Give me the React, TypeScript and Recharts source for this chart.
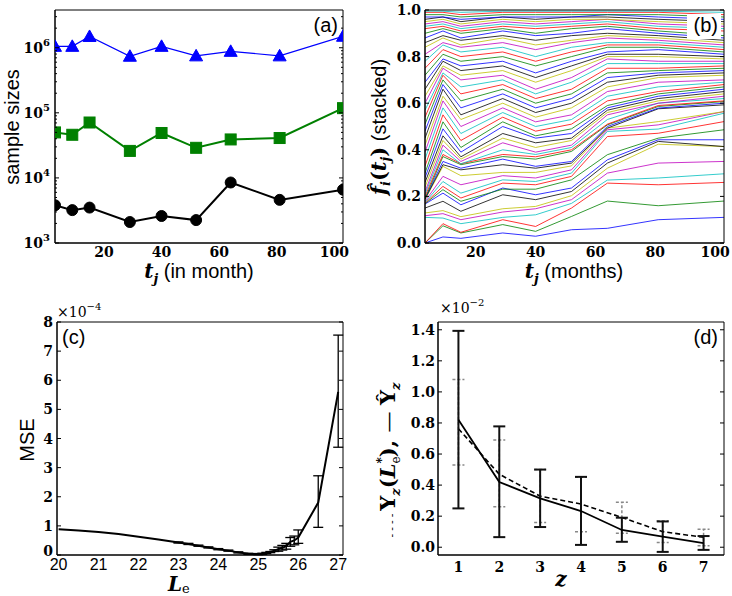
import { LineChart, Line, XAxis, YAxis, ErrorBar } from 'recharts';

// ---- panel (a): sample sizes per month ----
const tMonths = [3, 9, 15, 29, 40, 52, 64, 81, 103];
const sizeLarge = [1.05e6, 1.05e6, 1.49e6, 7.4e5, 1.05e6, 7.5e5, 8.8e5, 7.5e5, 1.5e6];
const sizeMedium = [5.0e4, 4.6e4, 7.1e4, 2.6e4, 4.9e4, 2.9e4, 3.9e4, 4.1e4, 1.18e5];
const sizeSmall = [3800, 3200, 3500, 2100, 2600, 2250, 8500, 4600, 6600];
const monthTicks = [20, 40, 60, 80, 100];
const logMajorTicks = [1e3, 1e4, 1e5, 1e6];
const logMinorTicks = [
  2e3, 3e3, 4e3, 5e3, 6e3, 7e3, 8e3, 9e3,
  2e4, 3e4, 4e4, 5e4, 6e4, 7e4, 8e4, 9e4,
  2e5, 3e5, 4e5, 5e5, 6e5, 7e5, 8e5, 9e5,
  2e6, 3e6,
];

// ---- panel (b): stacked frequencies, one row per line, one value per month ----
const stackLines: number[][] = [
  [0.0, 0.026, 0.02, 0.043, 0.029, 0.057, 0.063, 0.1, 0.11],
  [0.0, 0.074, 0.043, 0.079, 0.05, 0.114, 0.18, 0.16, 0.18],
  [0.0, 0.083, 0.046, 0.1, 0.071, 0.15, 0.257, 0.25, 0.26],
  [0.11, 0.107, 0.083, 0.11, 0.121, 0.17, 0.27, 0.279, 0.297],
  [0.117, 0.126, 0.1, 0.133, 0.147, 0.186, 0.3, 0.343, 0.35],
  [0.129, 0.139, 0.113, 0.147, 0.157, 0.203, 0.321, 0.424, 0.414],
  [0.15, 0.179, 0.136, 0.207, 0.186, 0.221, 0.343, 0.436, 0.414],
  [0.167, 0.214, 0.164, 0.236, 0.207, 0.236, 0.357, 0.443, 0.443],
  [0.169, 0.229, 0.179, 0.231, 0.231, 0.271, 0.379, 0.45, 0.486],
  [0.171, 0.243, 0.193, 0.257, 0.25, 0.286, 0.457, 0.471, 0.521],
  [0.174, 0.264, 0.214, 0.271, 0.264, 0.3, 0.479, 0.489, 0.557],
  [0.179, 0.286, 0.25, 0.289, 0.279, 0.314, 0.486, 0.507, 0.564],
  [0.186, 0.329, 0.289, 0.303, 0.303, 0.331, 0.493, 0.521, 0.564],
  [0.189, 0.336, 0.314, 0.336, 0.321, 0.343, 0.493, 0.576, 0.593],
  [0.19, 0.35, 0.321, 0.36, 0.329, 0.35, 0.5, 0.579, 0.6],
  [0.19, 0.371, 0.336, 0.371, 0.36, 0.393, 0.507, 0.586, 0.607],
  [0.2, 0.38, 0.34, 0.38, 0.37, 0.4, 0.51, 0.59, 0.61],
  [0.21, 0.4, 0.34, 0.4, 0.38, 0.41, 0.53, 0.6, 0.62],
  [0.22, 0.42, 0.35, 0.43, 0.39, 0.42, 0.55, 0.6, 0.63],
  [0.24, 0.44, 0.36, 0.45, 0.41, 0.44, 0.56, 0.61, 0.64],
  [0.26, 0.46, 0.37, 0.47, 0.43, 0.45, 0.57, 0.62, 0.65],
  [0.28, 0.49, 0.39, 0.5, 0.45, 0.47, 0.58, 0.63, 0.66],
  [0.3, 0.52, 0.41, 0.52, 0.46, 0.49, 0.59, 0.64, 0.67],
  [0.33, 0.55, 0.44, 0.54, 0.48, 0.51, 0.61, 0.65, 0.68],
  [0.36, 0.58, 0.47, 0.56, 0.5, 0.53, 0.63, 0.67, 0.69],
  [0.39, 0.61, 0.5, 0.58, 0.52, 0.55, 0.65, 0.69, 0.7],
  [0.42, 0.63, 0.53, 0.6, 0.54, 0.58, 0.67, 0.71, 0.72],
  [0.45, 0.66, 0.55, 0.62, 0.56, 0.6, 0.69, 0.72, 0.73],
  [0.48, 0.68, 0.58, 0.64, 0.58, 0.62, 0.71, 0.73, 0.74],
  [0.51, 0.7, 0.61, 0.66, 0.6, 0.64, 0.73, 0.74, 0.75],
  [0.54, 0.72, 0.64, 0.68, 0.62, 0.66, 0.75, 0.75, 0.76],
  [0.57, 0.73, 0.67, 0.7, 0.64, 0.69, 0.77, 0.77, 0.77],
  [0.6, 0.75, 0.7, 0.72, 0.66, 0.71, 0.79, 0.78, 0.78],
  [0.63, 0.76, 0.72, 0.74, 0.69, 0.74, 0.8, 0.8, 0.79],
  [0.66, 0.78, 0.74, 0.76, 0.71, 0.76, 0.81, 0.81, 0.8],
  [0.69, 0.79, 0.76, 0.78, 0.73, 0.78, 0.82, 0.83, 0.81],
  [0.72, 0.81, 0.78, 0.8, 0.76, 0.8, 0.84, 0.84, 0.82],
  [0.75, 0.83, 0.8, 0.82, 0.78, 0.82, 0.85, 0.85, 0.83],
  [0.78, 0.85, 0.82, 0.84, 0.8, 0.84, 0.86, 0.86, 0.84],
  [0.81, 0.86, 0.84, 0.86, 0.83, 0.86, 0.88, 0.87, 0.85],
  [0.84, 0.88, 0.85, 0.88, 0.85, 0.87, 0.89, 0.88, 0.86],
  [0.86, 0.89, 0.87, 0.89, 0.87, 0.89, 0.9, 0.89, 0.87],
  [0.88, 0.91, 0.88, 0.91, 0.89, 0.9, 0.92, 0.9, 0.88],
  [0.9, 0.92, 0.9, 0.92, 0.9, 0.92, 0.93, 0.91, 0.89],
  [0.92, 0.93, 0.91, 0.93, 0.92, 0.93, 0.94, 0.92, 0.91],
  [0.93, 0.94, 0.92, 0.94, 0.93, 0.94, 0.95, 0.93, 0.92],
  [0.94, 0.95, 0.93, 0.95, 0.94, 0.95, 0.96, 0.94, 0.93],
  [0.95, 0.96, 0.94, 0.96, 0.95, 0.96, 0.96, 0.95, 0.94],
  [0.96, 0.97, 0.95, 0.97, 0.96, 0.97, 0.97, 0.96, 0.95],
  [0.97, 0.97, 0.96, 0.97, 0.97, 0.97, 0.98, 0.97, 0.96],
  [0.98, 0.98, 0.97, 0.98, 0.98, 0.98, 0.98, 0.98, 0.97],
  [0.99, 0.99, 0.98, 0.99, 0.99, 0.99, 0.99, 0.99, 0.98],
  [0.995, 0.995, 0.99, 0.995, 0.995, 0.995, 0.995, 0.995, 0.99],
];
const fracTicks = [0, 0.2, 0.4, 0.6, 0.8, 1.0];

// ---- panel (c): MSE (x1e-4) vs L_e ----
const leValues = [20, 20.5, 21, 21.5, 22, 22.5, 23, 23.25, 23.5, 23.75, 24, 24.25, 24.5, 24.75, 25, 25.1, 25.2, 25.3, 25.4, 25.5, 25.6, 25.7, 25.8, 25.9, 26, 26.5, 27];
const mseValues = [0.88, 0.84, 0.79, 0.72, 0.63, 0.53, 0.43, 0.38, 0.32, 0.26, 0.2, 0.15, 0.09, 0.04, 0.03, 0.04, 0.07, 0.1, 0.15, 0.2, 0.25, 0.3, 0.45, 0.5, 0.6, 1.8, 5.6];
const mseLow = [null, null, null, null, null, null, 0.41, 0.36, 0.3, 0.24, 0.18, 0.13, 0.07, 0.02, 0.01, 0.02, 0.05, 0.08, 0.12, 0.13, 0.17, 0.2, 0.3, 0.35, 0.4, 0.95, 3.7];
const mseHigh = [null, null, null, null, null, null, 0.45, 0.4, 0.34, 0.28, 0.22, 0.17, 0.11, 0.06, 0.05, 0.06, 0.09, 0.12, 0.18, 0.27, 0.33, 0.4, 0.6, 0.65, 0.86, 2.72, 7.55];
const leTicks = [20, 21, 22, 23, 24, 25, 26, 27];
const mseTicks = [0, 1, 2, 3, 4, 5, 6, 7, 8];

// ---- panel (d): Y_z (x1e-2) vs z ----
const zValues = [1, 2, 3, 4, 5, 6, 7];
const yHat = [0.82, 0.42, 0.314, 0.233, 0.111, 0.068, 0.026];
const yHatLow = [0.25, 0.065, 0.13, 0.015, 0.035, -0.03, -0.017];
const yHatHigh = [1.393, 0.778, 0.5, 0.453, 0.19, 0.166, 0.072];
const yModel = [0.763, 0.47, 0.329, 0.278, 0.192, 0.1, 0.064];
const yModelLow = [0.53, 0.26, 0.16, 0.1, 0.09, 0.03, 0.01];
const yModelHigh = [1.08, 0.69, 0.5, 0.45, 0.29, 0.17, 0.115];
const yzTicks = [0, 0.2, 0.4, 0.6, 0.8, 1.0, 1.2, 1.4];

const SERIF = '"DejaVu Serif", serif';
const SANS = '"Liberation Sans", Arial, sans-serif';
const CYCLE = ['#0000ff', '#008000', '#ff0000', '#00bfbf', '#bf00bf', '#bfbf00', '#000000'];

const sizeData = tMonths.map((t, i) => ({ t, large: sizeLarge[i], medium: sizeMedium[i], small: sizeSmall[i] }));
const stackData = tMonths.map((t, j) => {
  const row: Record<string, number> = { t };
  stackLines.forEach((line, i) => {
    row['s' + i] = line[j];
  });
  return row;
});
const mseData = leValues.map((le, i) => ({
  le,
  mse: mseValues[i],
  err: mseLow[i] == null ? null : [mseValues[i] - (mseLow[i] as number), (mseHigh[i] as number) - mseValues[i]],
}));
const yzData = zValues.map((z, i) => ({
  z,
  hat: yHat[i],
  hatErr: [yHat[i] - yHatLow[i], yHatHigh[i] - yHat[i]],
  model: yModel[i],
  modelErr: [yModel[i] - yModelLow[i], yModelHigh[i] - yModel[i]],
}));

// y tick drawn as a short inward line; minor ticks are shorter
const inwardY = (side: 'left' | 'right', major: number[]) => (p: any) => {
  const len = major.includes(p.payload.value) ? 4 : 2;
  return <line x1={p.x} y1={p.y} x2={side === 'left' ? p.x + len : p.x - len} y2={p.y} stroke="#000" strokeWidth={1} />;
};

// inward tick marks on all four sides (matplotlib classic box)
function frame(prefix: string, xDomain: number[], xTicks: number[], yDomain: number[], yTicks: number[], yMinor: number[] = [], yScale: any = 'linear') {
  const c = { tickSize: 4, mirror: true, allowDataOverflow: true, interval: 0 as const, axisLine: { stroke: '#000' }, tickLine: { stroke: '#000' } };
  const yc = { mirror: true, allowDataOverflow: true, interval: 0 as const, axisLine: { stroke: '#000' }, tickLine: false, tickSize: 0, tickMargin: 0 };
  const yAll = [...yTicks, ...yMinor];
  return [
    <XAxis key={prefix + 'xb'} xAxisId={prefix + 'xb'} orientation="bottom" type="number" domain={xDomain} ticks={xTicks} tick={false} {...c} />,
    <XAxis key={prefix + 'xt'} xAxisId={prefix + 'xt'} orientation="top" type="number" domain={xDomain} ticks={xTicks} tick={false} {...c} />,
    <YAxis key={prefix + 'yl'} yAxisId={prefix + 'yl'} orientation="left" type="number" scale={yScale} domain={yDomain} ticks={yAll} tick={inwardY('left', yTicks)} {...yc} />,
    <YAxis key={prefix + 'yr'} yAxisId={prefix + 'yr'} orientation="right" type="number" scale={yScale} domain={yDomain} ticks={yAll} tick={inwardY('right', yTicks)} {...yc} />,
  ];
}

const bottomSerif = (p: any) => (
  <text x={p.x} y={p.y} dy="0.71em" textAnchor="middle" fontFamily={SERIF} fontWeight={700} fontSize={14} fill="#000">
    {p.payload.value}
  </text>
);
const bottomSans = (p: any) => (
  <text x={p.x} y={p.y} dy="0.71em" textAnchor="middle" fontFamily={SANS} fontSize={16} fill="#000">
    {p.payload.value}
  </text>
);
const leftFixed = (p: any) => (
  <text x={p.x} y={p.y} dy="0.36em" textAnchor="end" fontFamily={SERIF} fontWeight={700} fontSize={14} fill="#000">
    {Number(p.payload.value).toFixed(1)}
  </text>
);
const leftInt = (p: any) => (
  <text x={p.x} y={p.y} dy={p.payload.value === 0 ? '0.1em' : '0.36em'} textAnchor="end" fontFamily={SERIF} fontWeight={700} fontSize={14} fill="#000">
    {p.payload.value}
  </text>
);
const leftPow = (p: any) => (
  <text x={p.x} y={p.y} dy={5} textAnchor="end" fontFamily={SERIF} fontWeight={700} fontSize={14} fill="#000">
    10<tspan dy={-7} fontSize={10}>{Math.round(Math.log10(p.payload.value))}</tspan>
  </text>
);

const triangle = (p: any) =>
  p.cx == null ? <g key={p.index} /> : (
    <polygon key={p.index} points={`${p.cx},${p.cy - 6.5} ${p.cx - 6.5},${p.cy + 5} ${p.cx + 6.5},${p.cy + 5}`} fill="#0000ff" stroke="#0000ff" />
  );
const square = (p: any) =>
  p.cx == null ? <g key={p.index} /> : (
    <rect key={p.index} x={p.cx - 5.5} y={p.cy - 5.5} width={11} height={11} fill="#008000" stroke="#008000" />
  );
const circle = (p: any) =>
  p.cx == null ? <g key={p.index} /> : <circle key={p.index} cx={p.cx} cy={p.cy} r={5.5} fill="#000" stroke="#000" />;

const chartBox = (left: number, top: number) => ({ position: 'absolute' as const, left, top });

export default function App() {
  const monthDomain = [3, 103];
  const logDomain = [1e3, 3.8e6];
  return (
    <div style={{ position: 'absolute', left: 0, top: 0, width: 732, height: 596, background: '#fff', overflow: 'hidden' }}>
      {/* (a) */}
      <div style={chartBox(0, 0)}>
        <LineChart width={366} height={298} data={sizeData} margin={{ top: 10, right: 23, left: 0, bottom: 25 }}>
          <XAxis dataKey="t" type="number" domain={monthDomain} ticks={monthTicks} allowDataOverflow interval={0} height={30}
            tickLine={false} tickSize={0} tickMargin={4} axisLine={{ stroke: '#000' }} tick={bottomSerif} />
          <YAxis type="number" scale="log" domain={logDomain} ticks={logMajorTicks} allowDataOverflow interval={0} width={55}
            tickLine={false} tickSize={0} tickMargin={5} axisLine={{ stroke: '#000' }} tick={leftPow} />
          {frame('a', monthDomain, monthTicks, logDomain, logMajorTicks, logMinorTicks, 'log')}
          <Line dataKey="large" stroke="#0000ff" strokeWidth={1.2} dot={triangle} isAnimationActive={false} />
          <Line dataKey="medium" stroke="#008000" strokeWidth={2} dot={square} isAnimationActive={false} />
          <Line dataKey="small" stroke="#000" strokeWidth={2} dot={circle} isAnimationActive={false} />
        </LineChart>
      </div>

      {/* (b) */}
      <div style={chartBox(366, 0)}>
        <LineChart width={366} height={298} data={stackData} margin={{ top: 10, right: 8, left: 0, bottom: 25 }}>
          <XAxis dataKey="t" type="number" domain={monthDomain} ticks={monthTicks} allowDataOverflow interval={0} height={30}
            tickLine={false} tickSize={0} tickMargin={4} axisLine={{ stroke: '#000' }} tick={bottomSerif} />
          <YAxis type="number" domain={[0, 1]} ticks={fracTicks} allowDataOverflow interval={0} width={59}
            tickLine={false} tickSize={0} tickMargin={4} axisLine={{ stroke: '#000' }} tick={leftFixed} />
          {stackLines.map((_, i) => (
            <Line key={'s' + i} dataKey={'s' + i} stroke={CYCLE[i % CYCLE.length]} strokeWidth={0.8} dot={false} isAnimationActive={false} />
          ))}
          {frame('b', monthDomain, monthTicks, [0, 1], fracTicks)}
        </LineChart>
      </div>

      {/* (c) */}
      <div style={chartBox(0, 298)}>
        <LineChart width={366} height={298} data={mseData} margin={{ top: 24, right: 23, left: 0, bottom: 16 }}>
          <XAxis dataKey="le" type="number" domain={[19.96, 27.12]} ticks={leTicks} allowDataOverflow interval={0} height={25}
            tickLine={false} tickSize={0} tickMargin={4} axisLine={{ stroke: '#000' }} tick={bottomSans} />
          <YAxis type="number" domain={[0, 8]} ticks={mseTicks} allowDataOverflow interval={0} width={57}
            tickLine={false} tickSize={0} tickMargin={4} axisLine={{ stroke: '#000' }} tick={leftInt} />
          {frame('c', [19.96, 27.12], leTicks, [0, 8], mseTicks)}
          <Line dataKey="mse" stroke="#000" strokeWidth={2} dot={false} isAnimationActive={false}>
            <ErrorBar dataKey="err" direction="y" width={5} stroke="#000" strokeWidth={1.3} isAnimationActive={false} />
          </Line>
        </LineChart>
      </div>

      {/* (d) */}
      <div style={chartBox(366, 298)}>
        <LineChart width={366} height={298} data={yzData} margin={{ top: 24, right: 8, left: 0, bottom: 16 }}>
          <XAxis dataKey="z" type="number" domain={[0.5, 7.5]} ticks={zValues} allowDataOverflow interval={0} height={25}
            tickLine={false} tickSize={0} tickMargin={7} axisLine={{ stroke: '#000' }} tick={bottomSerif} />
          <YAxis type="number" domain={[-0.05, 1.45]} ticks={yzTicks} allowDataOverflow interval={0} width={72}
            tickLine={false} tickSize={0} tickMargin={3} axisLine={{ stroke: '#000' }} tick={leftFixed} />
          {frame('d', [0.5, 7.5], zValues, [-0.05, 1.45], yzTicks)}
          <Line dataKey="model" stroke="#000" strokeWidth={1.6} strokeDasharray="5 3" dot={false} isAnimationActive={false}>
            <ErrorBar dataKey="modelErr" direction="y" width={6} stroke="#888" strokeWidth={1.5} strokeDasharray="3 2" isAnimationActive={false} />
          </Line>
          <Line dataKey="hat" stroke="#000" strokeWidth={1.8} dot={false} isAnimationActive={false}>
            <ErrorBar dataKey="hatErr" direction="y" width={6} stroke="#111" strokeWidth={2} isAnimationActive={false} />
          </Line>
        </LineChart>
      </div>

      {/* titles, panel letters, exponent notes */}
      <svg width={732} height={596} style={{ position: 'absolute', left: 0, top: 0, pointerEvents: 'none' }}>
        <text transform="rotate(-90 19 127)" x={19} y={127} textAnchor="middle" fontFamily={SANS} fontSize={20} fill="#000">sample sizes</text>
        <text x={199} y={278} textAnchor="middle" fill="#000">
          <tspan fontFamily={SERIF} fontWeight={700} fontStyle="italic" fontSize={20}>t</tspan>
          <tspan fontFamily={SERIF} fontWeight={700} fontStyle="italic" fontSize={13} dy={5}>j</tspan>
          <tspan fontFamily={SANS} fontSize={20} dy={-5}> (in month)</tspan>
        </text>
        <text x={338} y={32} textAnchor="end" fontFamily={SANS} fontSize={20} fill="#000">(a)</text>

        <text transform="rotate(-90 386 127)" x={386} y={127} textAnchor="middle" fill="#000">
          <tspan fontFamily={SERIF} fontWeight={700} fontStyle="italic" fontSize={21}>f̂</tspan>
          <tspan fontFamily={SERIF} fontWeight={700} fontStyle="italic" fontSize={13} dy={4}>i</tspan>
          <tspan fontFamily={SERIF} fontWeight={700} fontSize={21} dy={-4}>(</tspan>
          <tspan fontFamily={SERIF} fontWeight={700} fontStyle="italic" fontSize={21}>t</tspan>
          <tspan fontFamily={SERIF} fontWeight={700} fontStyle="italic" fontSize={13} dy={4}>j</tspan>
          <tspan fontFamily={SERIF} fontWeight={700} fontSize={21} dy={-4}>)</tspan>
          <tspan fontFamily={SANS} fontSize={20}> (stacked)</tspan>
        </text>
        <text x={574} y={278} textAnchor="middle" fill="#000">
          <tspan fontFamily={SERIF} fontWeight={700} fontStyle="italic" fontSize={20}>t</tspan>
          <tspan fontFamily={SERIF} fontWeight={700} fontStyle="italic" fontSize={13} dy={5}>j</tspan>
          <tspan fontFamily={SANS} fontSize={20} dy={-5}> (months)</tspan>
        </text>
        <rect x={687} y={14} width={34} height={25} fill="#fff" />
        <text x={718} y={32} textAnchor="end" fontFamily={SANS} fontSize={20} fill="#000">(b)</text>

        <text transform="rotate(-90 34 440)" x={34} y={440} textAnchor="middle" fontFamily={SANS} fontSize={20} fill="#000">MSE</text>
        <text x={57} y={317} fontFamily={SERIF} fontSize={14} fill="#000">
          ×10<tspan dy={-7} fontSize={10}>−4</tspan>
        </text>
        <text x={62} y={344} fontFamily={SANS} fontSize={20} fill="#000">(c)</text>
        <text x={168} y={591} fill="#000">
          <tspan fontFamily={SERIF} fontWeight={700} fontStyle="italic" fontSize={20}>L</tspan>
          <tspan fontFamily={SERIF} fontSize={13} dy={2}>e</tspan>
        </text>

        <text transform="rotate(-90 395 460)" x={395} y={460} textAnchor="middle" fill="#000">
          <tspan fontFamily={SANS} fontSize={11}>- - - - </tspan>
          <tspan fontFamily={SERIF} fontWeight={700} fontSize={21}>Y</tspan>
          <tspan fontFamily={SERIF} fontWeight={700} fontStyle="italic" fontSize={13} dy={5}>z</tspan>
          <tspan fontFamily={SERIF} fontWeight={700} fontSize={21} dy={-5}>(</tspan>
          <tspan fontFamily={SERIF} fontWeight={700} fontStyle="italic" fontSize={21}>L</tspan>
          <tspan fontFamily={SERIF} fontSize={12} dy={5}>e</tspan>
          <tspan fontFamily={SERIF} fontWeight={700} fontSize={12} dx={-7} dy={-14}>*</tspan>
          <tspan fontFamily={SERIF} fontWeight={700} fontSize={21} dy={9}>), </tspan>
          <tspan fontFamily={SERIF} fontSize={21}>— </tspan>
          <tspan fontFamily={SERIF} fontWeight={700} fontSize={21}>Ŷ</tspan>
          <tspan fontFamily={SERIF} fontWeight={700} fontStyle="italic" fontSize={13} dy={5}>z</tspan>
        </text>
        <text x={440} y={313} fontFamily={SERIF} fontSize={14} fill="#000">
          ×10<tspan dy={-7} fontSize={10}>−2</tspan>
        </text>
        <text x={718} y={344} textAnchor="end" fontFamily={SANS} fontSize={20} fill="#000">(d)</text>
        <text x={561} y={586} textAnchor="middle" fontFamily={SERIF} fontWeight={700} fontStyle="italic" fontSize={20} fill="#000">z</text>
      </svg>
    </div>
  );
}
